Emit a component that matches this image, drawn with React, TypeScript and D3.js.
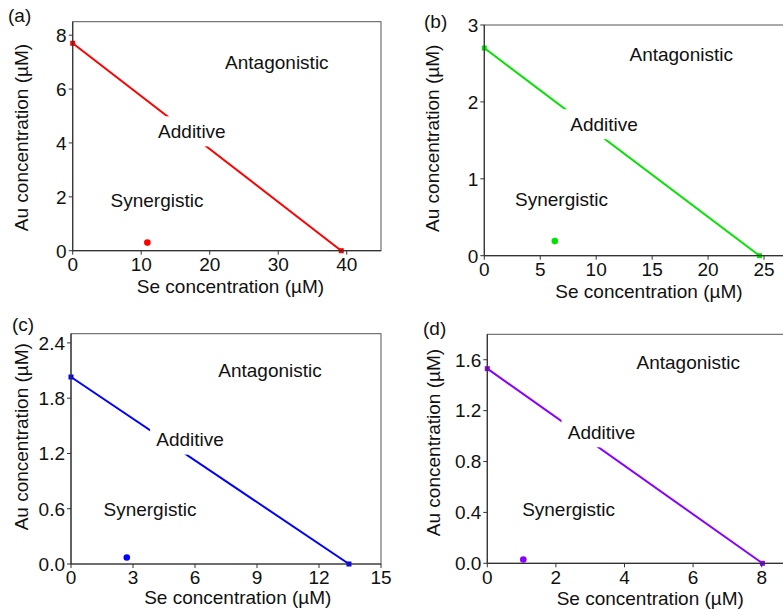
import * as d3 from 'd3'

// isobologram data per panel: IC50 of Se alone, IC50 of Au alone, combination point
const panelKeys = ['(a)', '(b)', '(c)', '(d)']
const seAlone = [39.2, 24.6, 13.45, 8.02]
const auAlone = [7.7, 2.7, 2.03, 1.53]
const comboSe = [10.9, 6.3, 2.7, 1.05]
const comboAu = [0.3, 0.19, 0.07, 0.03]
const colors = ['#ff0000', '#00e400', '#0000ff', '#8a00ff']

const xMax = [45, 27.5, 15, 9]
const yMax = [8.5, 3, 2.5, 1.8]
const xTicks = [[0, 10, 20, 30, 40], [0, 5, 10, 15, 20, 25], [0, 3, 6, 9, 12, 15], [0, 2, 4, 6, 8]]
const yTicks = [[0, 2, 4, 6, 8], [0, 1, 2, 3], [0, 0.6, 1.2, 1.8, 2.4], [0, 0.4, 0.8, 1.2, 1.6]]
const yFmt = ['d', 'd', '.1f', '.1f']

// region label positions in data units [x, y]
const antagPos = [[29.8, 7.0], [17.6, 2.62], [9.63, 2.1], [5.86, 1.58]]
const additivePos = [[17.4, 4.43], [10.7, 1.71], [5.76, 1.35], [3.33, 1.03]]
const synergPos = [[12.3, 1.88], [6.9, 0.74], [3.82, 0.595], [2.37, 0.427]]

// layout (pixels)
const boxes = [
  { left: 72.7, top: 21.7, right: 381, bottom: 250.7, tag: [8, 22], xl: [230.5, 293], yl: [20.7, 137.5] },
  { left: 484.3, top: 25, right: 792, bottom: 255.7, tag: [424, 28], xl: [649, 298], yl: [431.7, 138.3] },
  { left: 71, top: 333.7, right: 381, bottom: 564, tag: [12, 331], xl: [237.8, 604], yl: [20.7, 436.7] },
  { left: 487.3, top: 334.3, right: 796, bottom: 563.3, tag: [423, 335], xl: [650.3, 605], yl: [433.3, 442.5] },
]

const FONT = "'Liberation Sans', Arial, sans-serif"
const AXIS = '#333'
const FS = 19

function Panel({ i }: { i: number }) {
  const b = boxes[i]
  const x = d3.scaleLinear().domain([0, xMax[i]]).range([b.left, b.right])
  const y = d3.scaleLinear().domain([0, yMax[i]]).range([b.bottom, b.top])
  const fmt = d3.format(yFmt[i])
  const c = colors[i]
  const line = d3.line<[number, number]>().x(d => x(d[0])).y(d => y(d[1]))
  const iso: [number, number][] = [[0, auAlone[i]], [seAlone[i], 0]]
  const addX = x(additivePos[i][0])
  const addY = y(additivePos[i][1])
  return (
    <g fontFamily={FONT} fill="#111">
      <rect x={b.left} y={b.top} width={b.right - b.left} height={b.bottom - b.top} fill="none" stroke="#555" strokeWidth={1} />
      <path d={line(iso) || ''} stroke={c} strokeWidth={2} fill="none" />
      {iso.map((p, k) => (
        <rect key={k} x={x(p[0]) - 2.5} y={y(p[1]) - 2.5} width={5} height={5} fill={c} />
      ))}
      <circle cx={x(comboSe[i])} cy={y(comboAu[i])} r={3.3} fill={c} />
      <rect x={addX - 40} y={addY - 15} width={80} height={30} fill="#fff" />
      <text x={addX} y={addY} dy="0.36em" textAnchor="middle" fontSize={FS}>Additive</text>
      <text x={x(antagPos[i][0])} y={y(antagPos[i][1])} dy="0.36em" textAnchor="middle" fontSize={FS}>Antagonistic</text>
      <text x={x(synergPos[i][0])} y={y(synergPos[i][1])} dy="0.36em" textAnchor="middle" fontSize={FS}>Synergistic</text>
      {/* axes */}
      <line x1={b.left} x2={b.right} y1={b.bottom} y2={b.bottom} stroke={AXIS} strokeWidth={1.2} />
      <line x1={b.left} x2={b.left} y1={b.top} y2={b.bottom} stroke={AXIS} strokeWidth={1.2} />
      {xTicks[i].map(t => (
        <g key={'x' + t}>
          <line x1={x(t)} x2={x(t)} y1={b.bottom} y2={b.bottom + 4} stroke={AXIS} />
          <text x={x(t)} y={b.bottom + 6} dy="0.76em" textAnchor="middle" fontSize={FS}>{t}</text>
        </g>
      ))}
      {yTicks[i].map(t => (
        <g key={'y' + t}>
          <line x1={b.left - 4} x2={b.left} y1={y(t)} y2={y(t)} stroke={AXIS} />
          <text x={b.left - 6} y={y(t)} dy="0.36em" textAnchor="end" fontSize={FS}>{fmt(t)}</text>
        </g>
      ))}
      <text x={b.xl[0]} y={b.xl[1]} textAnchor="middle" fontSize={FS}>Se concentration (µM)</text>
      <text transform={`translate(${b.yl[0]},${b.yl[1]}) rotate(-90)`} dy="0.36em" textAnchor="middle" fontSize={FS}>Au concentration (µM)</text>
      <text x={b.tag[0]} y={b.tag[1]} fontSize={FS}>{panelKeys[i]}</text>
    </g>
  )
}

export default function App() {
  return (
    <svg width={783} height={611} style={{ position: 'absolute', left: 0, top: 0, background: '#fff' }}>
      <rect width={783} height={611} fill="#fff" />
      {panelKeys.map((_, i) => <Panel key={i} i={i} />)}
    </svg>
  )
}
